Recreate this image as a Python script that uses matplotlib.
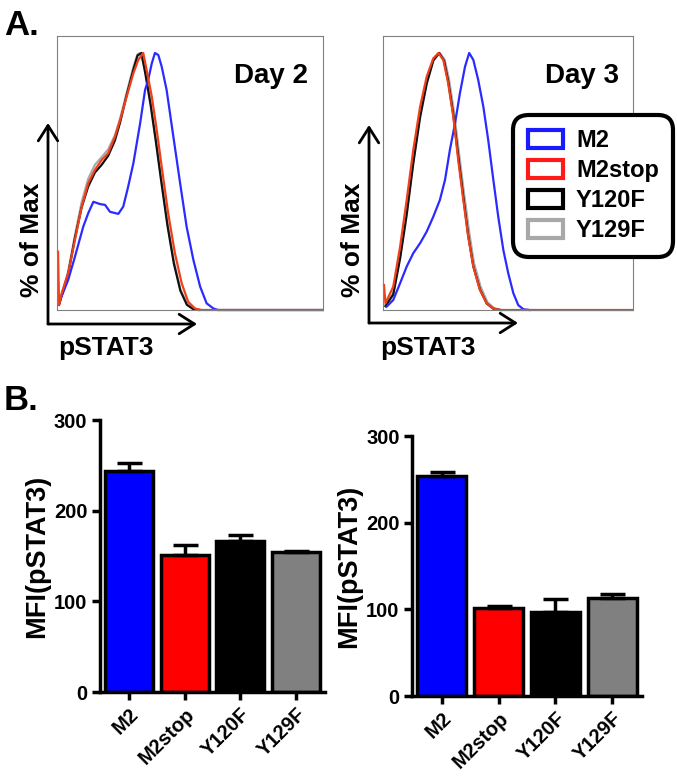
import numpy as np
import matplotlib.pyplot as plt
from matplotlib.patches import FancyArrowPatch, Patch

plt.rcParams['font.family'] = ['Liberation Sans', 'DejaVu Sans']
plt.rcParams['font.weight'] = 'bold'
plt.rcParams['axes.labelweight'] = 'bold'

W, H = 677, 780

# ---- A. pSTAT3 histograms (channel, % of max) ----
# Day 2
d2_m2_x = [12, 43, 69, 101, 120, 140, 166, 185, 204, 236, 255, 274, 294, 320, 339, 351,
           365, 377, 390, 403, 422, 448, 474, 499, 525, 551, 576, 602, 620, 1023]
d2_m2_y = [3.9, 11.7, 20.7, 32.4, 37.6, 42.1, 41.2, 40.9, 38.2, 37.4, 40.2, 48, 57.1, 72.6, 85.6, 89.5,
           96, 100, 99.2, 94.7, 85.6, 67.4, 49.3, 32.4, 19.5, 9.1, 2.6, 0.6, 0, 0]
d2_stop_x = [4, 8, 18, 43, 69, 95, 120, 146, 172, 197, 223, 243, 268, 294, 313, 332,
             345, 365, 384, 403, 428, 454, 480, 505, 531, 557, 1023]
d2_stop_y = [22.7, 2, 6.5, 14.3, 27.2, 40.2, 49.3, 54.5, 58.4, 61, 67.4, 73.9, 83, 92.1, 97.3, 100,
             93.4, 83, 70, 55.8, 37.6, 22.1, 10.4, 3.2, 0.6, 0, 0]
d2_y120_x = [8, 18, 43, 69, 95, 120, 146, 172, 197, 223, 243, 268, 294, 310, 325, 340,
             360, 380, 400, 425, 450, 475, 500, 525, 545]
d2_y120_y = [2, 5.5, 14, 28, 40, 48, 53.5, 56.5, 60, 66, 73, 83.5, 93.5, 99, 100, 92,
             80, 66, 51, 33, 18, 7.5, 2, 0.3, 0]
d2_y129_x = [8, 18, 43, 69, 95, 120, 146, 172, 197, 223, 243, 268, 294, 310, 322, 340,
             360, 380, 400, 425, 450, 475, 500, 525, 550]
d2_y129_y = [2.5, 6, 15, 29, 42, 51, 56.5, 59.5, 62.5, 68, 74.5, 84.5, 94.5, 99.5, 100, 93,
             81, 67, 52, 34, 19, 8, 2.5, 0.5, 0]

# Day 3
d3_m2_x = [15, 42, 70, 97, 124, 152, 179, 206, 233, 254, 274, 295, 315, 336, 353, 370,
           390, 411, 431, 452, 472, 493, 513, 534, 554, 575, 600]
d3_m2_y = [1.3, 3.9, 10.4, 16.9, 22.1, 26, 30.5, 36.3, 42.8, 50.6, 62.3, 72.6, 84.3, 94.7, 100, 97.3,
           89.5, 79.1, 66.1, 50.6, 36.3, 23.3, 14.3, 6.5, 1.9, 0.3, 0]
d3_stop_x = [4, 10, 42, 70, 97, 124, 152, 179, 206, 227, 247, 267, 288, 308, 329, 349,
             370, 397, 425, 452, 479, 1023]
d3_stop_y = [9.7, 2.6, 9.1, 24.6, 42.8, 62.3, 79.1, 90.8, 97.9, 100, 97.3, 88.2, 75.2, 58.4, 42.8, 28.5,
             16.9, 7.8, 2.6, 0.6, 0, 0]
d3_y120_x = [10, 42, 70, 97, 124, 152, 179, 206, 230, 250, 267, 288, 308, 329, 349, 370,
             397, 425, 452, 480]
d3_y120_y = [1.5, 6, 20, 37, 57, 75, 88, 97, 100, 97, 89, 76, 60, 44, 29, 17,
             8, 2.5, 0.5, 0]
d3_y129_x = [10, 42, 70, 97, 124, 152, 179, 206, 232, 252, 270, 290, 310, 331, 352, 372,
             400, 428, 455, 485]
d3_y129_y = [2, 6.5, 21, 38, 58, 76, 89, 97.5, 100, 97.5, 90, 77.5, 62, 46, 31, 18.5,
             9, 3, 0.7, 0]

# ---- B. MFI bars ----
groups = ['M2', 'M2stop', 'Y120F', 'Y129F']
bar_colors = ['#0000ff', '#ff0000', '#000000', '#808080']
line_colors = ['#2b2bff', '#f0401a', '#111111', '#aaaaaa']
legend_colors = ['#1a1aff', '#ff1a1a', '#000000', '#a8a8a8']
day2_mfi = [244, 151, 166, 154]
day2_err = [9, 11, 7, 2]
day3_mfi = [254, 101, 97, 113]
day3_err = [5, 3, 15, 5]


def rect(x0, y0, x1, y1):
    # pixel box (top-left origin) -> figure fraction [l, b, w, h]
    return [x0 / W, 1 - y1 / H, (x1 - x0) / W, (y1 - y0) / H]


def fp(x, y):
    return (x / W, 1 - y / H)


fig = plt.figure(figsize=(W / 100, H / 100), dpi=100)


def histo(box, curves, day):
    ax = fig.add_axes(rect(*box))
    for (xs, ys), c in curves:
        ax.plot(xs, ys, color=c, lw=1.6, clip_on=False)
    ax.set_xlim(0, 1024)
    ax.set_ylim(0, 106.6)
    ax.set_xticks([])
    ax.set_yticks([])
    for s in ax.spines.values():
        s.set_color('#808080')
        s.set_linewidth(0.8)
    ax.text(0.945, 0.828, day, transform=ax.transAxes, ha='right', va='baseline', fontsize=20)
    return ax


histo((57, 36, 323, 310),
      [((d2_y129_x, d2_y129_y), line_colors[3]), ((d2_y120_x, d2_y120_y), line_colors[2]),
       ((d2_m2_x, d2_m2_y), line_colors[0]), ((d2_stop_x, d2_stop_y), line_colors[1])], 'Day 2')
histo((383, 36, 633, 310),
      [((d3_y129_x, d3_y129_y), line_colors[3]), ((d3_y120_x, d3_y120_y), line_colors[2]),
       ((d3_m2_x, d3_m2_y), line_colors[0]), ((d3_stop_x, d3_stop_y), line_colors[1])], 'Day 3')

# axis arrows and labels
for ox, oy, top, right, labx in [(48, 324, 123, 197, 106), (369, 323, 125, 518, 428)]:
    for end in [fp(ox, top), fp(right, oy)]:
        fig.add_artist(FancyArrowPatch(fp(ox, oy), end, transform=fig.transFigure,
                                       arrowstyle='->,head_length=11,head_width=7',
                                       mutation_scale=1, lw=2, color='black',
                                       shrinkA=0, shrinkB=0))
    fig.text(*fp(labx, 355), 'pSTAT3', ha='center', va='baseline', fontsize=19)
fig.text(*fp(32, 240), '% of Max', rotation=90, ha='center', va='center', fontsize=19)
fig.text(*fp(353, 240), '% of Max', rotation=90, ha='center', va='center', fontsize=19)

fig.text(*fp(4, 35), 'A.', ha='left', va='baseline', fontsize=25)
fig.text(*fp(4, 410), 'B.', ha='left', va='baseline', fontsize=25)

handles = [Patch(facecolor='white', edgecolor=c, linewidth=3) for c in legend_colors]
leg = fig.legend(handles, groups, loc='upper right', bbox_to_anchor=fp(673, 115),
                 fontsize=17, frameon=True, fancybox=True, framealpha=1, edgecolor='black',
                 handlelength=1.5, handleheight=0.8, handletextpad=0.55,
                 labelspacing=0.3, borderpad=0.6, borderaxespad=0)
leg.get_frame().set_linewidth(3)
leg.get_frame().set_boxstyle('round', pad=0, rounding_size=0.65)


def bars(box, vals, errs):
    ax = fig.add_axes(rect(*box))
    x = np.arange(len(groups))
    ax.bar(x, vals, width=0.86, color=bar_colors, edgecolor='black', linewidth=2.5,
           yerr=[np.zeros(len(errs)), errs], capsize=9,
           error_kw=dict(elinewidth=2.5, capthick=2.5, ecolor='black'))
    ax.set_xlim(-0.52, 3.52)
    ax.set_ylim(0, 300)
    ax.set_yticks([0, 100, 200, 300])
    ax.set_yticklabels(['0', '100', '200', '300'], fontweight='bold')
    ax.set_xticks(x)
    ax.set_xticklabels(groups, rotation=45, ha='right', rotation_mode='anchor', fontweight='bold')
    ax.tick_params(direction='out', length=6, width=2.5, labelsize=14.5, pad=3)
    for s in ['top', 'right']:
        ax.spines[s].set_visible(False)
    for s in ['left', 'bottom']:
        ax.spines[s].set_linewidth(2.5)
    ax.set_ylabel('MFI(pSTAT3)', fontsize=19.5, labelpad=3, fontweight='bold')
    return ax


bars((100, 420, 325, 692), day2_mfi, day2_err)
bars((412, 436, 642, 696), day3_mfi, day3_err)

fig.savefig('out.png', dpi=100)
